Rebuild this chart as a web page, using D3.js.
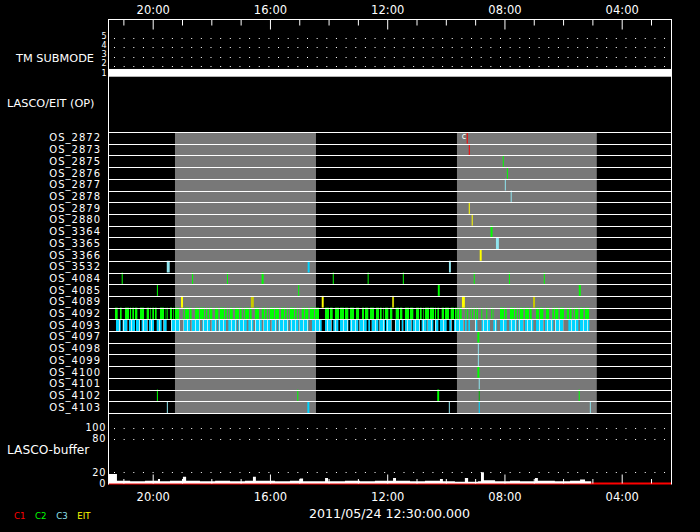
<!DOCTYPE html>
<html><head><meta charset="utf-8">
<script src="https://cdn.jsdelivr.net/npm/d3@7"></script>
<style>
html,body{margin:0;padding:0;background:#000;}
svg{display:block;}
text{font-family:"DejaVu Sans",sans-serif;fill:#fff;}
</style></head><body>
<svg id="c" width="700" height="532"></svg>
<script>
// ---------------- data ----------------
const osRows = ["OS_2872","OS_2873","OS_2875","OS_2876","OS_2877","OS_2878","OS_2879","OS_2880",
  "OS_3364","OS_3365","OS_3366","OS_3532","OS_4084","OS_4085","OS_4089","OS_4092","OS_4093",
  "OS_4097","OS_4098","OS_4099","OS_4100","OS_4101","OS_4102","OS_4103"];
const timeDomain = [21.525, 2.318];           // hours (time runs right-to-left)
const majorTicks = [20, 16, 12, 8, 4];
const minorTicks = [21, 19, 18, 17, 15, 14, 13, 11, 10, 9, 7, 6, 5, 3];
const submodeTicks = [1, 2, 3, 4, 5];
const submodeGrid = [2, 3, 4, 5];
const submode = [[21.525, 1], [2.318, 1]];
const grayPeriods = [[19.24, 14.43], [9.62, 4.85]];
// [row, time (h), duration (min), instrument]
const events = [
  ["OS_2872", 9.27, 2, "C1"], ["OS_2873", 9.20, 2, "C1"],
  ["OS_2875", 8.04, 2, "C2"], ["OS_2876", 7.90, 2, "C2"],
  ["OS_2877", 7.97, 2, "C3"], ["OS_2878", 7.77, 2, "C3"],
  ["OS_2879", 9.20, 2, "EIT"], ["OS_2880", 9.10, 2, "EIT"],
  ["OS_3364", 8.44, 4, "C2"], ["OS_3365", 8.24, 6, "C3"], ["OS_3366", 8.81, 4, "EIT"],
  ["OS_3532", 19.47, 6, "C3"], ["OS_3532", 14.68, 4, "C3b"], ["OS_3532", 9.86, 4, "C3"],
  ["OS_4084", 21.04, 2, "C2"], ["OS_4084", 18.64, 2, "C2"], ["OS_4084", 17.45, 2, "C2"],
  ["OS_4084", 16.25, 4, "C2"], ["OS_4084", 13.84, 2, "C2"], ["OS_4084", 12.65, 2, "C2"],
  ["OS_4084", 11.45, 2, "C2"], ["OS_4084", 9.03, 2, "C2"], ["OS_4084", 7.83, 2, "C2"],
  ["OS_4084", 6.64, 2, "C2"],
  ["OS_4085", 19.84, 2, "C2"], ["OS_4085", 15.02, 2, "C2"], ["OS_4085", 10.24, 4, "C2"],
  ["OS_4085", 5.43, 4, "C2"],
  ["OS_4089", 19.00, 4, "EIT"], ["OS_4089", 16.60, 6, "EITd"], ["OS_4089", 14.20, 4, "EIT"],
  ["OS_4089", 11.80, 4, "EITd"], ["OS_4089", 9.40, 6, "EIT"], ["OS_4089", 6.99, 4, "EITd"],
  ["OS_4097", 8.89, 4, "C2"], ["OS_4098", 8.89, 2, "C3"], ["OS_4099", 8.89, 2, "C3"],
  ["OS_4100", 8.89, 4, "C2"], ["OS_4101", 8.86, 2, "C3"],
  ["OS_4102", 19.84, 2, "C2"], ["OS_4102", 15.05, 2, "C2"], ["OS_4102", 10.26, 4, "C2"],
  ["OS_4102", 8.86, 2, "C2d"], ["OS_4102", 5.45, 2, "C2"],
  ["OS_4103", 19.50, 2, "C3"], ["OS_4103", 14.69, 4, "C3b"], ["OS_4103", 9.88, 2, "C3"],
  ["OS_4103", 8.86, 2, "C3b"], ["OS_4103", 5.07, 2, "C3"]
];
// dense sequences: [start h, end h]
const seq4092 = [
  [21.286,21.195],[21.150,21.059],[20.945,20.740],[20.695,20.524],[20.456,20.263],[20.206,20.069],
  [20.013,19.865],[19.751,19.569],[19.524,19.490],[19.444,19.342],[19.296,19.069],[18.955,18.671],
  [18.591,18.182],[18.136,17.966],[17.909,17.761],[17.727,17.477],[17.420,17.272],[17.226,16.965],
  [16.908,16.624],[16.544,16.340],[16.282,16.112],[16.055,15.680],[15.623,15.430],[15.373,15.089],
  [15.032,14.975],[14.918,14.691],[14.656,14.292],[14.156,13.860],[13.781,13.326],
  [13.269,13.133],[13.064,12.928],[12.860,12.644],[12.587,12.416],[12.382,12.189],[12.132,11.961],
  [11.927,11.825],[11.711,11.484],[11.415,11.108],[11.017,10.824],[10.767,10.574],[10.540,10.335],
  [10.289,10.199],[10.142,9.891],[9.835,9.630],[9.607,9.459],
  [9.360,9.335],[9.270,9.245],[9.190,9.165],[9.100,9.075],[9.005,8.980],[8.940,8.915],
  [8.790,8.765],[8.700,8.675],[8.620,8.595],[8.530,8.505],[8.450,8.425],[8.370,8.345],
  [8.174,7.924],[7.833,7.583],[7.526,7.356],[7.299,7.071],[6.923,6.673],[6.582,6.446],
  [6.366,6.162],[6.105,5.934],[5.877,5.707],[5.650,5.479],[5.422,5.309],[5.252,5.081]
];
const seq4093 = [
  [21.252,21.093],[21.025,20.865],[20.809,20.604],[20.570,20.433],[20.377,20.172],[20.126,19.956],
  [19.865,19.694],[19.637,19.524],[19.376,19.069],[18.955,18.728],[18.671,18.386],[18.307,18.045],
  [17.988,17.818],[17.761,17.499],[17.420,17.136],[17.079,16.794],[16.737,16.567],[16.510,16.282],
  [16.226,15.998],[15.941,15.771],[15.714,15.373],[15.316,15.032],[14.998,14.691],[14.565,14.236],
  [14.122,13.894],[13.838,13.667],[13.610,13.326],
  [13.269,12.985],[12.951,12.700],[12.644,12.587],[12.530,12.302],[12.268,12.075],[12.041,11.848],
  [11.734,11.563],[11.506,11.449],[11.393,11.165],[11.131,10.881],[10.824,10.653],[10.631,10.426],
  [10.369,10.255],[10.199,9.971],[9.880,9.800],[9.721,9.402],[9.346,9.289],[9.232,9.175],
  [9.005,8.925],[8.777,8.493],[8.379,8.265],[8.151,7.924],[7.833,7.583],[7.526,7.356],
  [7.299,7.015],[6.923,6.673],[6.616,6.332],[6.275,5.991],[5.820,5.479],[5.422,5.104]
];
const annotations = [["OS_2872", 9.38, "c"]];
const bufferTicks = [0, 20, 80, 100];
const bufferGrid = [20, 80, 100];
// [time h, buffer %]
const buffer = [
  [21.525,17],[21.25,17],[21.22,5],[20.77,4],[20.26,5],[19.82,8],[19.75,4],[19.41,5],[18.97,12],
  [18.86,5],[18.39,4],[17.87,5],[17.36,4],[16.85,5],[16.58,12],[16.48,5],[15.83,4],[15.32,5],
  [14.98,9],[14.87,4],[14.12,10],[14.02,4],[13.44,5],[12.93,4],[12.42,5],[11.80,10],[11.70,5],
  [11.22,4],[10.71,5],[10.20,8],[10.10,4],[9.69,3],[9.35,10],[9.24,3],[8.90,4],[8.80,20],
  [8.70,6],[8.32,4],[7.81,5],[7.47,4],[6.96,10],[6.86,5],[6.28,4],[5.76,5],[5.42,7],[5.25,4],
  [5.08,4],[5.04,0],[2.318,0]
];
const legendItems = ["C1", "C2", "C3", "EIT"];
const dateLabel = "2011/05/24 12:30:00.000";
const panelTitles = [["TM SUBMODE", "sub"], ["LASCO/EIT (OP)", "op"], ["LASCO-buffer", "buf"]];

// ---------------- drawing ----------------
const colors = {C1:"#ff0000", C2:"#00ff00", C2d:"#00b400", C3:"#8fe4ee", C3b:"#00d4ff",
                EIT:"#ffff00", EITd:"#c8c800"};
const svg = d3.select("#c");
svg.append("rect").attr("width",700).attr("height",532).attr("fill","#000");

// stripe patterns for dense exposure sequences
const defs = svg.append("defs");
const p92 = defs.append("pattern").attr("id","pat92").attr("patternUnits","userSpaceOnUse")
  .attr("width",5).attr("height",20);
p92.append("rect").attr("width",4).attr("height",20).attr("fill",colors.C2);
const p93 = defs.append("pattern").attr("id","pat93").attr("patternUnits","userSpaceOnUse")
  .attr("width",4).attr("height",20);
p93.append("rect").attr("width",4).attr("height",20).attr("fill","#b8eef4");
p93.append("rect").attr("width",3).attr("height",20).attr("fill",colors.C3b);

const L = 108, R = 671;
const x = d3.scaleLinear().domain(timeDomain).range([L, R]);
const yRow = d3.scaleBand().domain(osRows).range([132, 413]);
const ySub = d3.scaleLinear().domain([1, 5]).range([75.3, 38]);
const yBuf = d3.scaleLinear().domain([0, 100]).range([483.5, 427.7]);
const fmt = d => d3.format("02d")(d) + ":00";

// gray periods
svg.append("g").selectAll("rect").data(grayPeriods).join("rect")
  .attr("x", d => x(d[0])).attr("width", d => x(d[1]) - x(d[0]))
  .attr("y", yRow.range()[0]).attr("height", yRow.range()[1] - yRow.range()[0])
  .attr("fill", "#787878");

// dotted grids
const dotted = (g, ys) => g.selectAll("line").data(ys).join("line")
  .attr("x1", L).attr("x2", R).attr("y1", d => d).attr("y2", d => d)
  .attr("stroke", "#fff").attr("stroke-width", 1)
  .attr("stroke-dasharray", "1 8.65").attr("stroke-dashoffset", 3.65);
dotted(svg.append("g"), submodeGrid.map(v => Math.round(ySub(v)) + 0.5));
dotted(svg.append("g"), bufferGrid.map(v => Math.round(yBuf(v)) + 0.5));

// submode band
svg.append("g").selectAll("rect").data([submode]).join("rect")
  .attr("x", d => x(d[0][0])).attr("width", d => x(d[1][0]) - x(d[0][0]))
  .attr("y", d => ySub(d[0][1] + 0.68)).attr("height", d => ySub(d[0][1] - 0.15) - ySub(d[0][1] + 0.68))
  .attr("fill", "#fff");

// submode tick labels
svg.append("g").selectAll("text").data(submodeTicks).join("text")
  .attr("x", 106.5).attr("y", d => ySub(d) + 0.5).attr("text-anchor", "end")
  .attr("font-size", 8).attr("letter-spacing", 0).text(d => d);

// dense sequences
const seqG = svg.append("g");
seqG.selectAll("rect.s92").data(seq4092).join("rect").attr("class","s92")
  .attr("x", d => x(d[0])).attr("width", d => Math.max(1, x(d[1]) - x(d[0])))
  .attr("y", yRow("OS_4092")).attr("height", yRow.bandwidth()).attr("fill", "url(#pat92)");
seqG.selectAll("rect.s93").data(seq4093).join("rect").attr("class","s93")
  .attr("x", d => x(d[0])).attr("width", d => Math.max(1, x(d[1]) - x(d[0])))
  .attr("y", yRow("OS_4093")).attr("height", yRow.bandwidth()).attr("fill", "url(#pat93)");

// events
const pxPerMin = (x(0) - x(1)) / 60;
svg.append("g").selectAll("rect").data(events).join("rect")
  .attr("x", d => x(d[1]) - Math.max(1, d[2] * pxPerMin) / 2)
  .attr("width", d => Math.max(1, d[2] * pxPerMin))
  .attr("y", d => yRow(d[0])).attr("height", yRow.bandwidth())
  .attr("fill", d => colors[d[3]]);

// row separator lines
const rowLines = osRows.map(r => yRow(r)).concat([yRow.range()[1]]);
svg.append("g").selectAll("line").data(rowLines).join("line")
  .attr("x1", L).attr("x2", R).attr("y1", d => Math.round(d) + 0.5).attr("y2", d => Math.round(d) + 0.5)
  .attr("stroke", "#fff").attr("stroke-width", 1.2);

// row labels
svg.append("g").selectAll("text").data(osRows).join("text")
  .attr("x", 101).attr("y", d => yRow(d) + yRow.bandwidth() / 2).attr("dy", "0.36em")
  .attr("text-anchor", "end").attr("font-size", 10).attr("letter-spacing", 1).text(d => d);

// annotations
svg.append("g").selectAll("text").data(annotations).join("text")
  .attr("x", d => x(d[1])).attr("y", d => yRow(d[0]) + 6.5)
  .attr("font-size", 8).attr("text-anchor", "middle").text(d => d[2]);

// buffer area
svg.append("line").attr("x1", L).attr("x2", R).attr("y1", yBuf(0)).attr("y2", yBuf(0))
  .attr("stroke", "#ff0000").attr("stroke-width", 2);
svg.append("path").datum(buffer)
  .attr("d", d3.area().x(d => x(d[0])).y0(yBuf(0)).y1(d => yBuf(d[1])).curve(d3.curveStepAfter))
  .attr("fill", "#fff");

// buffer tick labels
svg.append("g").selectAll("text").data(bufferTicks).join("text")
  .attr("x", 106).attr("y", d => yBuf(d)).attr("dy", "0.36em").attr("text-anchor", "end")
  .attr("font-size", 9.8).attr("letter-spacing", 0.6).text(d => d);

// panel titles
const titleY = {sub: 58.3, op: 103, buf: 449.3};
svg.append("g").selectAll("text").data(panelTitles).join("text")
  .attr("x", d => d[1] === "sub" ? 94 : 7)
  .attr("text-anchor", d => d[1] === "sub" ? "end" : "start")
  .attr("y", d => titleY[d[1]]).attr("dy", "0.36em")
  .attr("font-size", d => d[1] === "buf" ? 12.2 : 11.3).text(d => d[0]);

// top axis
const topAx = svg.append("g").attr("transform", "translate(0,19.5)");
topAx.call(d3.axisTop(x).tickValues(majorTicks).tickFormat(fmt).tickSize(-10));
topAx.append("g").call(d3.axisTop(x).tickValues(minorTicks).tickFormat("").tickSize(-6));
topAx.selectAll(".domain").remove();
topAx.selectAll("line").attr("stroke", "#fff");
topAx.selectAll("text").attr("fill", "#fff").attr("font-size", 11.5)
  .attr("font-family", '"DejaVu Sans",sans-serif').attr("y", -9.5).attr("dy", "0.36em");
svg.append("line").attr("x1", L).attr("x2", R + 0.5).attr("y1", 19.5).attr("y2", 19.5).attr("stroke", "#fff");

// bottom axis
const botAx = svg.append("g").attr("transform", `translate(0,${yBuf(0)})`);
botAx.call(d3.axisBottom(x).tickValues(majorTicks).tickFormat(fmt).tickSize(-9));
botAx.append("g").call(d3.axisBottom(x).tickValues(minorTicks).tickFormat("").tickSize(-4.5));
botAx.selectAll(".domain").remove();
botAx.selectAll("line").attr("stroke", "#fff");
botAx.selectAll("text").attr("fill", "#fff").attr("font-size", 11.5)
  .attr("font-family", '"DejaVu Sans",sans-serif').attr("y", 13.8).attr("dy", "0.36em");

// frame verticals
[L + 0.5, R + 0.5].forEach(xx => svg.append("line").attr("x1", xx).attr("x2", xx)
  .attr("y1", 19).attr("y2", yBuf(0) + 1).attr("stroke", "#fff"));

// date label
svg.append("text").attr("x", (L + R) / 2).attr("y", 513.3).attr("dy", "0.36em")
  .attr("text-anchor", "middle").attr("font-size", 12.6).text(dateLabel);

// legend
const legColors = {C1: colors.C1, C2: colors.C2, C3: colors.C3, EIT: colors.EIT};
const legX = d3.scalePoint().domain(legendItems).range([14, 77.3]);
svg.append("g").selectAll("text").data(legendItems).join("text")
  .attr("x", d => legX(d)).attr("y", 516).attr("dy", "0.36em").attr("font-size", 8.6)
  .style("fill", d => legColors[d]).text(d => d);
</script>
</body></html>
